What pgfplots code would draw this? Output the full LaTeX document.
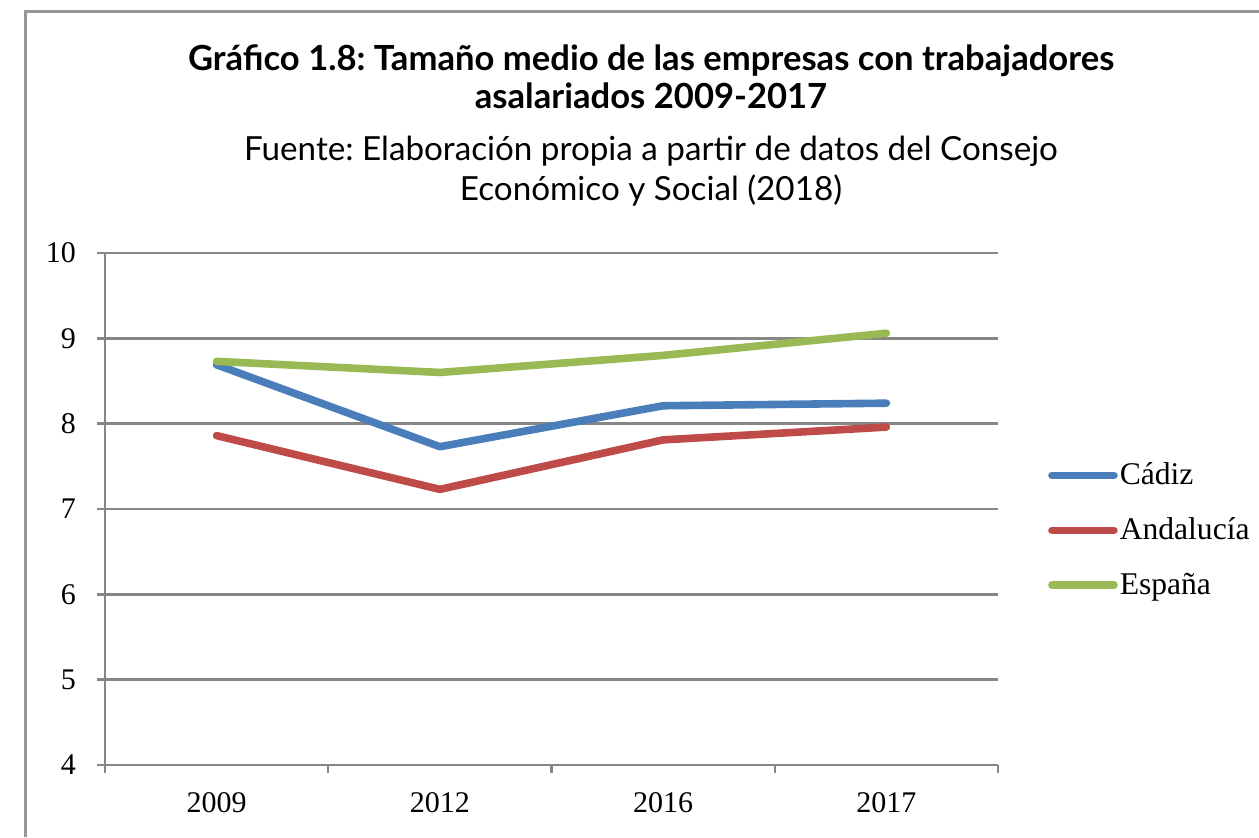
\documentclass[border=0pt]{standalone}
\usepackage{pgfplots}
\pgfplotsset{compat=1.18}
\usepackage{fontspec}
\setmainfont{Liberation Serif}
\newfontfamily\titlefont{Lato}
\definecolor{cblue}{RGB}{74,126,187}
\definecolor{cred}{RGB}{190,75,72}
\definecolor{cgreen}{RGB}{152,185,84}
\definecolor{axgray}{RGB}{134,134,134}
\definecolor{framegray}{RGB}{150,150,150}
\frenchspacing
\begin{document}
\begin{tikzpicture}
\useasboundingbox (0,0) rectangle (629.5pt,418.5pt);
\fill[white] (0,0) rectangle (629.5pt,418.5pt);
\draw[framegray, line width=1.5pt] (12.5pt,0pt) -- (12.5pt,412.5pt) -- (629.5pt,412.5pt);
\node[anchor=base, inner sep=0pt, font=\titlefont\bfseries\fontsize{17.3}{20}\selectfont] at (325.5pt,383pt) {Gráfico 1.8: Tamaño medio de las empresas con trabajadores};
\node[anchor=base, inner sep=0pt, font=\titlefont\bfseries\fontsize{17.3}{20}\selectfont] at (325.5pt,364pt) {asalariados 2009-2017};
\node[anchor=base, inner sep=0pt, font=\titlefont\fontsize{16.6}{20}\selectfont] at (325.5pt,338pt) {Fuente: Elaboración propia a partir de datos del Consejo};
\node[anchor=base, inner sep=0pt, font=\titlefont\fontsize{16.6}{20}\selectfont] at (325.5pt,318pt) {Económico y Social (2018)};
\begin{axis}[
  at={(52.5pt,36pt)}, anchor=south west,
  scale only axis, width=446.5pt, height=256pt,
  xmin=0, xmax=4, ymin=4, ymax=10,
  ytick={4,5,6,7,8,9,10},
  xtick={0,1,2,3,4},
  xticklabels={2009,2012,2016,2017},
  x tick label as interval,
  axis x line=bottom, axis y line=left,
  axis line style={-, axgray, line width=1.2pt},
  ymajorgrids,
  major grid style={axgray, line width=1.2pt},
  tick style={axgray, line width=1.2pt},
  major tick length=4pt,
  tick align=outside,
  tick label style={font=\fontsize{15}{18}\selectfont, black},
  yticklabel style={xshift=-7pt},
  xticklabel style={yshift=-6pt},
  /pgf/number format/assume math mode=true,
  clip=false,
  legend style={at={(1.049,0.459)}, anchor=west, draw=none, fill=none,
    font=\fontsize{15.8}{19}\selectfont, row sep=13pt,
    nodes={inner sep=1pt},
    /tikz/every even column/.style={column sep=0pt}},
  legend cell align=left,
  legend image code/.code={\draw[#1, line width=3.8pt, line cap=round] (0pt,0pt) -- (31pt,0pt);},
]
\addplot[cblue, line width=3.8pt, line cap=round, line join=round] coordinates {(0.5,8.69) (1.5,7.73) (2.5,8.21) (3.5,8.24)};
\addlegendentry{Cádiz}
\addplot[cred, line width=3.8pt, line cap=round, line join=round] coordinates {(0.5,7.86) (1.5,7.23) (2.5,7.81) (3.5,7.96)};
\addlegendentry{Andalucía}
\addplot[cgreen, line width=3.8pt, line cap=round, line join=round] coordinates {(0.5,8.73) (1.5,8.60) (2.5,8.80) (3.5,9.06)};
\addlegendentry{España}
\end{axis}
\end{tikzpicture}
\end{document}
